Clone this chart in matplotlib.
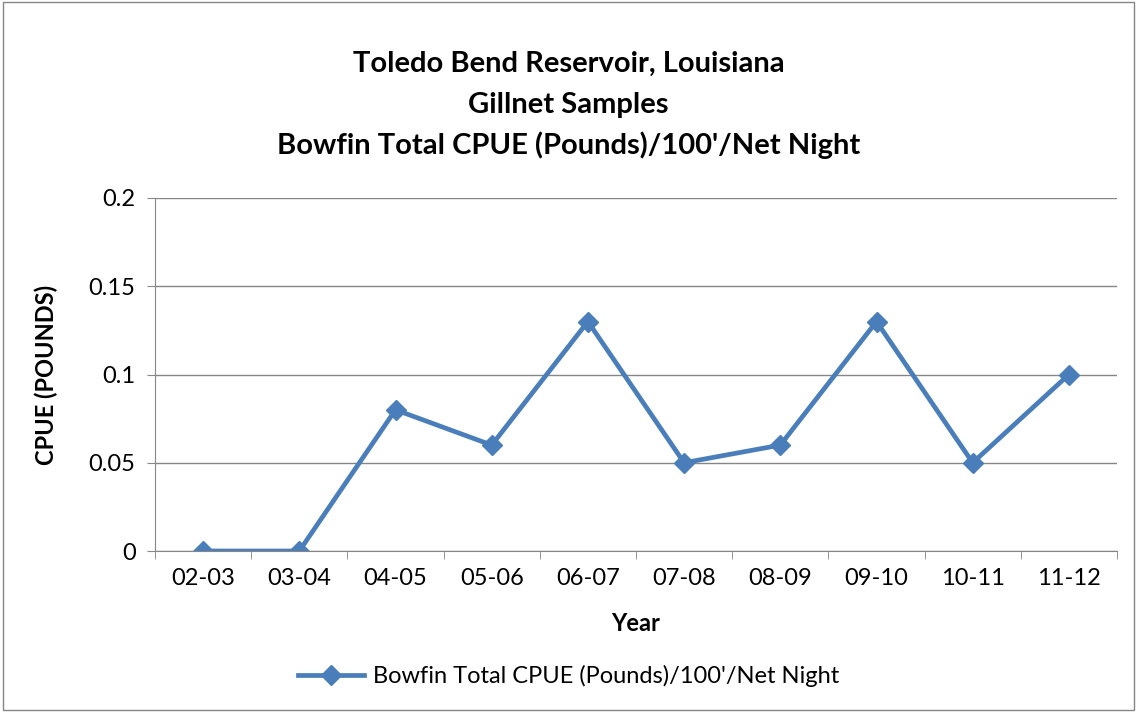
import matplotlib
matplotlib.use("Agg")
import matplotlib.pyplot as plt
from matplotlib.patches import Rectangle

years = ["02-03", "03-04", "04-05", "05-06", "06-07", "07-08", "08-09", "09-10", "10-11", "11-12"]
cpue = [0, 0, 0.08, 0.06, 0.13, 0.05, 0.06, 0.13, 0.05, 0.10]
yticks = [0, 0.05, 0.1, 0.15, 0.2]
ytick_labels = ["0", "0.05", "0.1", "0.15", "0.2"]

plt.rcParams['font.family'] = ['Lato', 'DejaVu Sans']

fig = plt.figure(figsize=(11.37, 7.12), dpi=100)
ax = fig.add_axes([155/1137, 1-551/712, 962/1137, 353/712])

xs = list(range(len(years)))
ax.plot(xs, cpue, color="#4A7EBB", linewidth=3.4, marker="D", markersize=10,
        markerfacecolor="#4A7EBB", markeredgecolor="#4A7EBB",
        label="Bowfin Total CPUE (Pounds)/100'/Net Night")

ax.set_xlim(-0.5, len(years) - 0.5)
ax.set_ylim(0, 0.2)
ax.set_yticks(yticks)
ax.set_yticklabels(ytick_labels, fontsize=17)
ax.set_xticks(xs)
ax.set_xticklabels(years, fontsize=17)
ax.set_xticks([i - 0.5 for i in range(len(years) + 1)], minor=True)
ax.tick_params(axis="x", which="major", length=0, pad=12)
ax.tick_params(axis="x", which="minor", length=6, color="#868686")
ax.tick_params(axis="y", length=6, color="#868686", pad=8)
ax.grid(axis="y", color="#868686", linewidth=1)
ax.set_axisbelow(True)
for s in ["top", "right"]:
    ax.spines[s].set_visible(False)
ax.spines["left"].set_color("#868686")
ax.spines["bottom"].set_color("#868686")

ax.set_xlabel("Year", fontsize=17, fontweight="bold", labelpad=17)
ax.set_ylabel("CPUE (POUNDS)", fontsize=17, fontweight="bold", labelpad=22)

fig.text(0.5, 1-64/712, "Toledo Bend Reservoir, Louisiana", ha="center", va="center",
         fontsize=21, fontweight="bold")
fig.text(0.5, 1-105/712, "Gillnet Samples", ha="center", va="center",
         fontsize=21, fontweight="bold")
fig.text(0.5, 1-145/712, "Bowfin Total CPUE (Pounds)/100'/Net Night", ha="center", va="center",
         fontsize=21, fontweight="bold")

fig.legend(loc="center", bbox_to_anchor=(0.5, 1-676/712), frameon=False, fontsize=17,
           handlelength=2.8, handletextpad=0.4)

fig.patches.append(Rectangle((0.003, 0.003), 0.994, 0.994, transform=fig.transFigure,
                             fill=False, edgecolor="#868686", linewidth=1))

fig.savefig("out.png", dpi=100)
